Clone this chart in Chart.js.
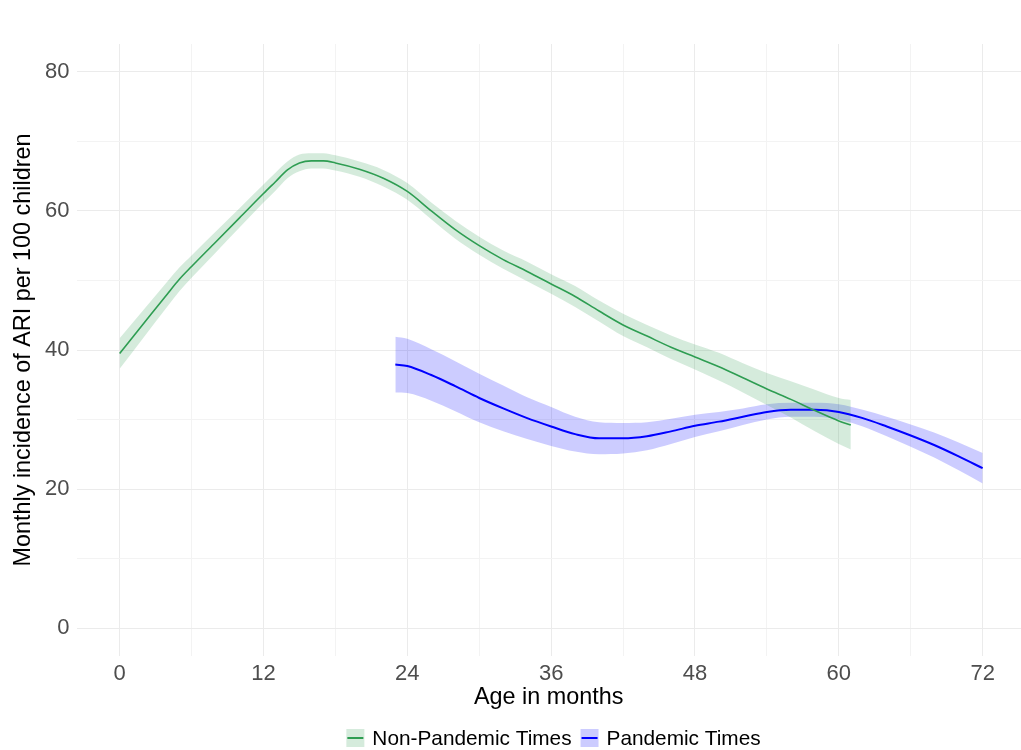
<!DOCTYPE html>
<html>
<head>
<meta charset="utf-8">
<script src="https://cdn.jsdelivr.net/npm/chart.js@4.4.1/dist/chart.umd.min.js"></script>
<style>
  html, body { margin: 0; padding: 0; background: #ffffff; }
  #wrap { width: 1021px; height: 750px; }
</style>
</head>
<body>
<div id="wrap"><canvas id="c" width="1021" height="750"></canvas></div>
<script>
// ---- data ----
const seriesNames = ['Non-Pandemic Times', 'Pandemic Times'];

const npMonths = [0, 2, 4, 5, 6, 8, 10, 12, 13, 14, 15, 16, 17, 18, 20, 22, 24, 26, 28, 30, 32, 34, 36, 38, 40, 42, 44, 46, 48, 50, 52, 54, 56, 58, 60, 61];
const npMean   = [39.5, 43.8, 48.1, 50.2, 52.0, 55.5, 59.0, 62.5, 64.2, 65.9, 66.9, 67.2, 67.2, 66.9, 66.0, 64.7, 62.8, 60.0, 57.3, 55.0, 53.0, 51.3, 49.5, 47.7, 45.6, 43.6, 42.0, 40.4, 39.0, 37.6, 36.0, 34.4, 32.9, 31.3, 29.8, 29.2];
const npLower  = [37.3, 41.8, 46.3, 48.5, 50.4, 54.0, 57.6, 61.2, 62.9, 64.7, 65.7, 66.1, 66.1, 65.8, 64.9, 63.5, 61.6, 58.8, 56.0, 53.7, 51.7, 49.9, 48.1, 46.2, 44.1, 42.0, 40.4, 38.7, 37.2, 35.6, 33.9, 32.1, 30.3, 28.3, 26.5, 25.7];
const npUpper  = [41.7, 45.8, 49.9, 51.9, 53.6, 57.0, 60.4, 63.8, 65.5, 67.1, 68.1, 68.3, 68.3, 68.0, 67.1, 65.9, 64.0, 61.2, 58.6, 56.3, 54.3, 52.7, 50.9, 49.2, 47.1, 45.2, 43.6, 42.1, 40.8, 39.6, 38.1, 36.7, 35.5, 34.3, 33.1, 32.8];

const pMonths = [23, 24, 26, 28, 30, 32, 34, 36, 38, 40, 42, 44, 46, 48, 50, 52, 54, 56, 58, 60, 62, 64, 66, 68, 70, 72];
const pMean   = [37.9, 37.7, 36.4, 34.8, 33.1, 31.6, 30.2, 29.0, 27.9, 27.3, 27.3, 27.6, 28.3, 29.1, 29.7, 30.4, 31.1, 31.4, 31.4, 31.1, 30.2, 29.0, 27.7, 26.3, 24.7, 23.0];
const pLower  = [33.9, 33.8, 32.7, 31.2, 29.6, 28.3, 27.2, 26.2, 25.4, 25.0, 25.1, 25.6, 26.5, 27.5, 28.3, 29.2, 30.0, 30.4, 30.4, 30.0, 29.0, 27.6, 26.1, 24.5, 22.7, 20.8];
const pUpper  = [41.9, 41.6, 40.1, 38.4, 36.6, 34.9, 33.2, 31.8, 30.4, 29.6, 29.5, 29.6, 30.1, 30.7, 31.1, 31.6, 32.2, 32.4, 32.4, 32.2, 31.4, 30.4, 29.3, 28.1, 26.7, 25.2];

const xTicks = [0, 6, 12, 18, 24, 30, 36, 42, 48, 54, 60, 66, 72];
const xLabels = [0, 12, 24, 36, 48, 60, 72];
const yTicks = [0, 10, 20, 30, 40, 50, 60, 70, 80];
const yLabels = [0, 20, 40, 60, 80];

// ---- styles ----
const npLine = '#2e9d52';
const npBand = 'rgba(46,157,82,0.2)';
const pLine = '#0000ff';
const pBand = 'rgba(0,0,255,0.2)';
const FONT = '"Liberation Sans", Arial, Helvetica, sans-serif';

const pts = (xs, ys) => xs.map((x, i) => ({ x: x, y: ys[i] }));

const bandBase = { pointRadius: 0, borderWidth: 0, cubicInterpolationMode: 'monotone', order: 2 };
const lineBase = { pointRadius: 0, fill: false, cubicInterpolationMode: 'monotone', order: 1 };

const datasets = [
  Object.assign({}, bandBase, { label: 'npUpper', data: pts(npMonths, npUpper), fill: '+1', backgroundColor: npBand, borderColor: 'rgba(0,0,0,0)' }),
  Object.assign({}, bandBase, { label: 'npLower', data: pts(npMonths, npLower), fill: false, borderColor: 'rgba(0,0,0,0)' }),
  Object.assign({}, bandBase, { label: 'pUpper', data: pts(pMonths, pUpper), fill: '+1', backgroundColor: pBand, borderColor: 'rgba(0,0,0,0)' }),
  Object.assign({}, bandBase, { label: 'pLower', data: pts(pMonths, pLower), fill: false, borderColor: 'rgba(0,0,0,0)' }),
  Object.assign({}, lineBase, { label: seriesNames[0], data: pts(npMonths, npMean), borderColor: npLine, borderWidth: 1.6 }),
  Object.assign({}, lineBase, { label: seriesNames[1], data: pts(pMonths, pMean), borderColor: pLine, borderWidth: 2 })
];

// custom ggplot-like legend centred under the panel
const legendPlugin = {
  id: 'ggLegend',
  afterDraw(chart) {
    const ctx = chart.ctx;
    const items = [
      { text: seriesNames[0], line: npLine, band: npBand },
      { text: seriesNames[1], line: pLine, band: pBand }
    ];
    const key = 18, gapText = 8, gapItem = 9, y = 738;
    ctx.save();
    ctx.font = '20.8px ' + FONT;
    ctx.textBaseline = 'middle';
    ctx.textAlign = 'left';
    let total = 0;
    items.forEach((it, i) => {
      it.w = ctx.measureText(it.text).width;
      total += key + gapText + it.w + (i < items.length - 1 ? gapItem : 0);
    });
    let x = 553.5 - total / 2;
    items.forEach(it => {
      ctx.fillStyle = it.band;
      ctx.fillRect(x, y - key / 2, key, key);
      ctx.strokeStyle = it.line;
      ctx.lineWidth = 2;
      ctx.beginPath();
      ctx.moveTo(x + 1, y);
      ctx.lineTo(x + key - 1, y);
      ctx.stroke();
      ctx.fillStyle = '#000000';
      ctx.fillText(it.text, x + key + gapText, y + 1);
      x += key + gapText + it.w + gapItem;
    });
    ctx.restore();
  }
};

new Chart(document.getElementById('c'), {
  type: 'line',
  data: { datasets: datasets },
  plugins: [legendPlugin],
  options: {
    responsive: false,
    animation: false,
    layout: { padding: { top: 44, right: 0, bottom: 34, left: 0 } },
    plugins: { legend: { display: false }, tooltip: { enabled: false } },
    scales: {
      x: {
        type: 'linear',
        min: -3.6,
        max: 75.2,
        afterBuildTicks: s => { s.ticks = xTicks.map(v => ({ value: v })); },
        afterFit: s => { s.height = 60; },
        border: { display: false },
        grid: {
          drawTicks: false,
          color: c => (xLabels.includes(c.tick.value) ? '#ebebeb' : '#f3f3f3'),
          lineWidth: 1
        },
        ticks: {
          padding: 5,
          maxRotation: 0,
          autoSkip: false,
          color: '#4d4d4d',
          font: { family: FONT, size: 22 },
          callback: v => (xLabels.includes(v) ? String(v) : '')
        },
        title: {
          display: true,
          text: 'Age in months',
          color: '#000000',
          font: { family: FONT, size: 23.4 },
          padding: { top: 0, bottom: 4 }
        }
      },
      y: {
        type: 'linear',
        min: -4,
        max: 84,
        afterBuildTicks: s => { s.ticks = yTicks.map(v => ({ value: v })); },
        afterFit: s => { s.width = 76.5; },
        border: { display: false },
        grid: {
          drawTicks: false,
          color: c => (yLabels.includes(c.tick.value) ? '#ebebeb' : '#f3f3f3'),
          lineWidth: 1
        },
        ticks: {
          padding: 7,
          autoSkip: false,
          color: '#4d4d4d',
          font: { family: FONT, size: 22 },
          callback: v => (yLabels.includes(v) ? String(v) : '')
        },
        title: {
          display: true,
          text: 'Monthly incidence of ARI per 100 children',
          color: '#000000',
          font: { family: FONT, size: 23.4 },
          padding: { top: 10, bottom: 0 }
        }
      }
    }
  }
});
</script>
</body>
</html>
